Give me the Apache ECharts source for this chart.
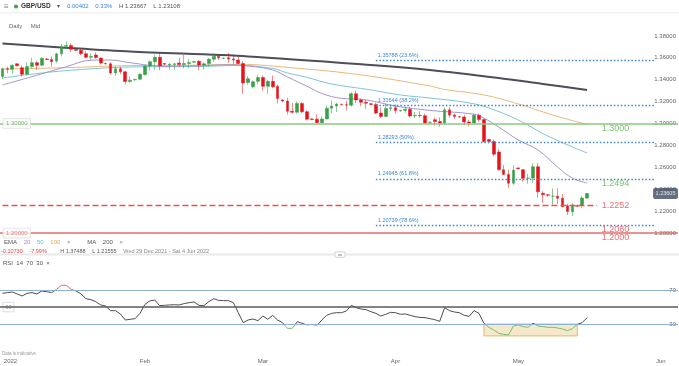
<!DOCTYPE html>
<html><head><meta charset="utf-8">
<script src="https://cdn.jsdelivr.net/npm/echarts@6/dist/echarts.min.js"></script>
<style>html,body{margin:0;padding:0;background:#fff}#c{width:679px;height:366px}</style>
</head><body><div id="c"></div>
<script>
// ---------- categories: trading days (Sun-Fri), Dec 29 2021 .. Jun 7 2022 ----------
function buildDates(a, b){
  const out=[]; let d=new Date(a+'T00:00:00Z'); const e=new Date(b+'T00:00:00Z');
  while(d<=e){ if(d.getUTCDay()!==6) out.push(d.toISOString().slice(0,10)); d=new Date(d.getTime()+86400000); }
  return out;
}
const dates = buildDates('2021-12-29','2022-06-07');

// ---------- OHLC (GBP/USD daily, Dec 29 2021 .. May 17 2022) ----------
const opens = [1.3430,1.3500,1.3495,
 1.3545,1.3510,1.3450,1.3520,1.3556,1.3532,
 1.3590,1.3585,1.3570,1.3636,1.3705,1.3712,
 1.3675,1.3668,1.3638,1.3605,1.3625,1.3598,
 1.3548,1.3545,1.3462,1.3500,1.3472,1.3384,
 1.3398,1.3405,1.3448,1.3525,1.3565,1.3605,
 1.3548,1.3535,1.3538,1.3552,1.3538,1.3548,
 1.3560,1.3568,1.3535,1.3548,1.3588,1.3615,
 1.3595,1.3600,1.3590,1.3580,1.3548,1.3375,
 1.3335,1.3385,1.3420,1.3340,1.3385,1.3340,
 1.3215,1.3205,1.3112,1.3103,1.3184,1.3108,
 1.3042,1.3040,1.3008,1.3042,1.3140,1.3160,
 1.3175,1.3172,1.3168,1.3272,1.3215,1.3195,
 1.3180,1.3175,1.3096,1.3065,1.3138,1.3145,
 1.3115,1.3120,1.3130,1.3070,1.3074,1.3072,
 1.3010,1.3035,1.3018,1.3002,1.3125,1.3078,
 1.3062,1.3060,1.3015,1.3005,1.3075,1.3036,
 1.2855,1.2835,1.2740,1.2578,1.2535,1.2455,
 1.2595,1.2578,1.2500,1.2502,1.2606,1.2363,
 1.2350,1.2336,1.2336,1.2317,1.2250,1.2195,
 1.2250,1.2253,1.2320];
const highs = [1.3510,1.3518,1.3540,
 1.3550,1.3530,1.3560,1.3600,1.3570,1.3605,
 1.3598,1.3612,1.3645,1.3727,1.37488,1.3734,
 1.3685,1.3688,1.3660,1.3640,1.3648,1.3605,
 1.3556,1.3560,1.3523,1.3518,1.3480,1.3430,
 1.3410,1.3459,1.3530,1.3575,1.3630,1.3643,
 1.3552,1.3550,1.3552,1.3600,1.3643,1.3587,
 1.3572,1.3580,1.3560,1.3598,1.3645,1.3625,
 1.3606,1.3643,1.3628,1.3610,1.3570,1.3433,
 1.3390,1.3445,1.3438,1.3397,1.3438,1.3354,
 1.3225,1.3235,1.3187,1.3202,1.3196,1.3121,
 1.3050,1.3085,1.3066,1.3164,1.3210,1.3190,
 1.3182,1.3208,1.3286,1.3298,1.3227,1.3215,
 1.3188,1.3190,1.3148,1.3182,1.3176,1.3175,
 1.3126,1.3154,1.3154,1.3106,1.3113,1.3090,
 1.3022,1.3055,1.3056,1.3147,1.3149,1.3090,
 1.3070,1.3079,1.3034,1.3090,1.3090,1.3045,
 1.2860,1.2853,1.2769,1.2620,1.2580,1.2618,
 1.2600,1.2585,1.2539,1.2637,1.2638,1.2381,
 1.2355,1.2406,1.2409,1.2357,1.2268,1.2274,
 1.2262,1.2340,1.23667];
const lows = [1.3405,1.3460,1.3455,
 1.3520,1.3432,1.3440,1.3505,1.3490,1.3525,
 1.3580,1.3520,1.3550,1.3612,1.3680,1.3655,
 1.3660,1.3622,1.3595,1.3580,1.3590,1.3539,
 1.3538,1.3447,1.3434,1.3450,1.3358,1.3372,
 1.3392,1.3400,1.3437,1.3483,1.3490,1.3488,
 1.3535,1.3491,1.3489,1.3519,1.3501,1.3506,
 1.3555,1.3485,1.3490,1.3520,1.3564,1.3580,
 1.3588,1.3556,1.3538,1.3541,1.3272,1.3355,
 1.3320,1.3355,1.3300,1.3271,1.3322,1.3184,
 1.3195,1.3083,1.3091,1.3090,1.3094,1.3029,
 1.3030,1.3000,1.3001,1.3038,1.3091,1.3104,
 1.3165,1.3119,1.3155,1.3186,1.3159,1.3136,
 1.3168,1.3085,1.3050,1.3060,1.3115,1.3090,
 1.3108,1.3098,1.3054,1.3050,1.3050,1.3000,
 1.3000,1.2980,1.2972,1.2990,1.3054,1.3040,
 1.3052,1.2989,1.2974,1.2996,1.3016,1.2826,
 1.2825,1.2701,1.2572,1.2530,1.2411,1.2440,
 1.2580,1.2470,1.2450,1.2460,1.2326,1.2276,
 1.2330,1.2259,1.2266,1.2236,1.2165,1.21555,
 1.2240,1.2226,1.23108];
const closes = [1.3500,1.3495,1.3532,
 1.3528,1.3450,1.3520,1.3556,1.3532,1.3596,
 1.3585,1.3565,1.3636,1.3705,1.3712,1.3678,
 1.3668,1.3638,1.3605,1.3612,1.3603,1.3552,
 1.3545,1.3462,1.3500,1.3472,1.3384,1.3396,
 1.3402,1.3450,1.3525,1.3565,1.3605,1.3528,
 1.3542,1.3542,1.3545,1.3538,1.3548,1.3558,
 1.3566,1.3535,1.3545,1.3588,1.3615,1.3600,
 1.3598,1.3590,1.3580,1.3548,1.3370,1.3410,
 1.3382,1.3420,1.3340,1.3385,1.3335,1.3228,
 1.3205,1.3112,1.3103,1.3184,1.3108,1.3040,
 1.3038,1.3008,1.3042,1.3140,1.3160,1.3178,
 1.3172,1.3168,1.3272,1.3215,1.3195,1.3185,
 1.3175,1.3096,1.3065,1.3138,1.3145,1.3118,
 1.3120,1.3130,1.3070,1.3074,1.3072,1.3005,
 1.3012,1.3018,1.3002,1.3125,1.3078,1.3065,
 1.3060,1.3015,1.3005,1.3075,1.3036,1.2836,
 1.2835,1.2720,1.2578,1.2535,1.2455,1.2575,
 1.2588,1.2500,1.2502,1.2606,1.2377,1.2350,
 1.2345,1.2336,1.2317,1.2240,1.2198,1.2256,
 1.2245,1.2320,1.23605];

// ---------- moving averages [date, value] ----------
const ema20 = [['2021-12-29',1.3352],['2022-01-05',1.3428],['2022-01-13',1.3519],['2022-01-19',1.3578],
 ['2022-01-24',1.3580],['2022-01-28',1.3555],['2022-02-06',1.3522],['2022-02-14',1.3528],['2022-02-21',1.3536],
 ['2022-02-25',1.3525],['2022-03-03',1.3489],['2022-03-07',1.3425],['2022-03-11',1.3340],['2022-03-15',1.3275],
 ['2022-03-20',1.3230],['2022-03-24',1.3222],['2022-04-01',1.3160],['2022-04-10',1.3120],['2022-04-20',1.3085],
 ['2022-04-22',1.3050],['2022-04-26',1.2968],['2022-05-01',1.2850],['2022-05-05',1.2758],['2022-05-10',1.2603],
 ['2022-05-13',1.2502],['2022-05-17',1.2457]];
const ema50 = [['2021-12-29',1.3416],['2022-01-10',1.3471],['2022-01-21',1.3505],['2022-01-30',1.3517],
 ['2022-02-14',1.3521],['2022-02-23',1.3530],['2022-03-03',1.3503],['2022-03-07',1.3462],['2022-03-11',1.3421],
 ['2022-03-17',1.3361],['2022-03-27',1.3307],['2022-04-03',1.3261],['2022-04-10',1.3233],['2022-04-19',1.3188],
 ['2022-04-24',1.3142],['2022-05-01',1.3032],['2022-05-08',1.2886],['2022-05-17',1.2731]];
const ema100 = [['2021-12-29',1.3498],['2022-01-13',1.3510],['2022-01-28',1.3529],['2022-02-11',1.3532],
 ['2022-02-23',1.3540],['2022-03-09',1.3505],['2022-03-24',1.3444],['2022-04-10',1.3343],['2022-04-13',1.3311],
 ['2022-04-22',1.3261],['2022-05-01',1.3179],['2022-05-09',1.3078],['2022-05-17',1.2991]];
const ma200 = [['2021-12-29',1.3731],['2022-01-12',1.3695],['2022-01-28',1.3657],['2022-02-25',1.3613],
 ['2022-03-27',1.3535],['2022-04-10',1.3489],['2022-04-26',1.3416],['2022-05-06',1.3361],['2022-05-17',1.3307]];

// ---------- RSI(14) ----------
const rsi = [66.1,66.9,67.6,65.3,63,66,67,65.3,68.8,68,
 66.9,70.8,75.5,75.5,70.8,68.8,65.3,59.8,58.6,56.3,
 52.4,51.2,45.7,45.7,41.8,34.7,35.5,36.3,42.5,53.1,
 57.1,58.2,51.6,52,52.4,52.7,52.4,54,55.1,55.9,
 52,51.6,56.3,59.8,57.8,57.5,57.5,55.1,43.3,31.6,
 34.7,35.9,33.9,39.4,35.5,40.2,34.7,31.6,24.9,24.9,
 32.7,30.8,28.8,29.6,28,34.7,40.2,42.5,43.3,43.3,
 45.3,52,49.2,47.6,46.9,44.5,42.5,39.4,41.4,43.7,
 43.3,41.4,41.8,40.2,38.6,37.8,37.5,36.3,35.1,33.1,
 49.2,45.7,44.1,43.3,40.2,39,45.7,42.5,30.8,26.1,
 23,19,17.8,17.1,27.6,28.8,26.9,26.1,30.8,27.6,
 26.9,26.1,26.1,25.3,24.1,22.2,24.5,29.6,31.6,37.5];

// ---------- levels ----------
const fibValues = [1.35788, 1.31644, 1.28293, 1.24945, 1.20739];
const fibLabels = ['1.35788 (23.6%)','1.31644 (38.2%)','1.28293 (50%)','1.24945 (61.8%)','1.20739 (78.6%)'];
const fibStart = '2022-03-28', fibEnd = '2022-06-02';
const supportLevel = 1.2252, supportStart = '2021-12-29', supportEnd = '2022-05-19';
const greenLevel = 1.3000, redLevel = 1.2000;
const tagValues = [1.3000, 1.2494, 1.2252, 1.2080, 1.2000];
const tagDate = '2022-05-20';
const lastPrice = 1.23605, lastDate = '2022-06-07';
const rsiBands = [70, 50, 30];
const oversoldBox = [['2022-04-22', 30], ['2022-05-15', 16]];

const tickDates = ['2022-01-02','2022-02-01','2022-03-01','2022-04-01','2022-05-01','2022-06-01'];
const tickLabels = ['2022','Feb','Mar','Apr','May','Jun'];

const header = ['GBP/USD','0.00402','0.33%','H 1.23667','L 1.23108'];
const rangeInfo = ['-0.10730','-7.99%','H 1.37488','L 1.21555','Wed 29 Dec 2021 - Sat 4 Jun 2022'];

// ---------- build ----------
const FONT = '"Liberation Sans", Arial, sans-serif';
const candles = opens.map((o,i)=>[o, closes[i], lows[i], highs[i]]);
const xDataBottom = dates.map(d=>{
  if(d===tickDates[0]) return {value:d, textStyle:{align:'right'}};
  if(d===tickDates[tickDates.length-1]) return {value:d, textStyle:{align:'left', padding:[0,0,0,5]}};
  return d;
});
const tagColors = ['#5cb04c','#5cb04c','#e5484d','#e5484d','#e5484d'];
const tagOffsets = [4.6, 4.3, 0, 4.8, 4.4];

function lineHolder(name, color, width, type, data){
  return {name, type:'line', xAxisIndex:0, yAxisIndex:0, data:[], silent:true, z:1,
    color: color,
    markLine:{silent:true, symbol:['none','none'], animation:false,
      lineStyle:{color, width, type, opacity:1}, label:{show:false}, data}};
}

const chart = echarts.init(document.getElementById('c'), null, {renderer:'canvas'});
const option = {
  animation:false,
  textStyle:{fontFamily:FONT},
  grid:[
    {left:0, right:0, top:14, height:241},
    {left:0, right:0, top:264.5, height:85}
  ],
  xAxis:[
    {type:'category', gridIndex:0, data:dates, boundaryGap:true,
     axisLine:{show:false}, axisTick:{show:false}, axisLabel:{show:false}, splitLine:{show:false}},
    {type:'category', gridIndex:1, data:xDataBottom, boundaryGap:true,
     axisLine:{show:false}, axisTick:{show:false}, splitLine:{show:false},
     axisLabel:{show:true, fontSize:6, color:'#666', margin:9, fontFamily:FONT,
       interval:(i,v)=>tickDates.indexOf(v)>=0,
       formatter:v=>{const k=tickDates.indexOf(v); return k>=0?tickLabels[k]:'';}}}
  ],
  yAxis:[
    {type:'value', gridIndex:0, position:'right', min:1.18, max:1.40, interval:0.02,
     axisLine:{show:false}, axisTick:{show:false}, splitLine:{show:false},
     axisLabel:{inside:true, margin:2, fontSize:6, color:'#666', showMinLabel:false, showMaxLabel:false,
       formatter:v=>v.toFixed(5)}},
    {type:'value', gridIndex:1, position:'right', min:0, max:100, interval:10,
     axisLine:{show:false}, axisTick:{show:false}, splitLine:{show:false},
     axisLabel:{inside:true, margin:2, fontSize:6, color:'#666',
       formatter:v=>(v===70||v===30)?String(v):''}}
  ],
  visualMap:[{show:false, seriesIndex:9, dimension:1,
    pieces:[{lt:30, color:'#72c266'},{gte:30, lte:70, color:'#4d4d4d'},{gt:70, color:'#e46a6a'}]}],
  series:[
    lineHolder('greenLevel', '#8dc97e', 1.5, 'solid', [{yAxis:greenLevel}]),
    lineHolder('redLevel', '#e36d6d', 1.5, 'solid', [{yAxis:redLevel}]),
    {name:'support', type:'line', xAxisIndex:0, yAxisIndex:0, silent:true, z:5, symbol:'none',
     data:[[supportStart, supportLevel],[supportEnd, supportLevel]],
     itemStyle:{color:'#ee5050'}, lineStyle:{color:'#ee5050', width:1.5, type:'dashed'}},
    lineHolder('fib', '#3d86d4', 1.4, [1.5,2], fibValues.map((v,i)=>[
         {coord:[fibStart, v],
          label:{show:true, formatter:fibLabels[i], position:'insideStartTop', distance:2, color:'#3d86d4', fontSize:5.5, fontFamily:FONT}},
         {coord:[fibEnd, v]}])),
    {name:'EMA 100', type:'line', xAxisIndex:0, yAxisIndex:0, data:ema100, smooth:0.4, symbol:'none', z:2,
     lineStyle:{color:'#e9b978', width:1}},
    {name:'EMA 50', type:'line', xAxisIndex:0, yAxisIndex:0, data:ema50, smooth:0.4, symbol:'none', z:2,
     lineStyle:{color:'#7cc5d8', width:1}},
    {name:'EMA 20', type:'line', xAxisIndex:0, yAxisIndex:0, data:ema20, smooth:0.4, symbol:'none', z:2,
     lineStyle:{color:'#a394cb', width:1}},
    {name:'MA 200', type:'line', xAxisIndex:0, yAxisIndex:0, data:ma200, smooth:0.3, symbol:'none', z:2,
     lineStyle:{color:'#4e4e58', width:2}},
    {name:'GBP/USD', type:'candlestick', xAxisIndex:0, yAxisIndex:0, data:candles, barWidth:3.2, z:3,
     itemStyle:{color:'#3a9f48', color0:'#e3141b', borderColor:'rgba(58,159,72,0.55)', borderColor0:'rgba(227,20,27,0.5)',
       borderColorDoji:'rgba(58,159,72,0.6)', borderWidth:1}},
    {name:'RSI', type:'line', xAxisIndex:1, yAxisIndex:1, data:rsi, symbol:'none', z:4,
     lineStyle:{width:1}},
    {name:'rsiLevels', type:'scatter', xAxisIndex:1, yAxisIndex:1, symbolSize:0, z:3,
     data:[[dates[0], rsiBands[1]]],
     label:{show:true, position:'inside', align:'left', offset:[1,0], formatter:p=>String(p.value[1]),
       fontSize:5.5, color:'#777', backgroundColor:'#fff', borderColor:'#d0d0d0', borderWidth:0.8, padding:[1.5,2]},
     markLine:{silent:true, symbol:['none','none'], label:{show:false},
       data:[
         {yAxis:rsiBands[0], lineStyle:{color:'#8fb2da', width:1.2, type:'solid'}},
         {yAxis:rsiBands[1], lineStyle:{color:'#5a5a5a', width:1.5, type:'solid'}},
         {yAxis:rsiBands[2], lineStyle:{color:'#8fb2da', width:1.2, type:'solid'}}
       ]},
     markArea:{silent:true, data:[[
       {xAxis:oversoldBox[0][0], yAxis:oversoldBox[0][1], itemStyle:{color:'rgba(238,214,160,0.55)', borderColor:'#e9b766', borderWidth:1}},
       {xAxis:oversoldBox[1][0], yAxis:oversoldBox[1][1]}
     ]]}},
    {name:'tags', type:'scatter', xAxisIndex:0, yAxisIndex:0, symbolSize:0, z:6, silent:true,
     data:tagValues.map((v,i)=>({value:[tagDate, v],
       label:{show:true, position:'inside', align:'left', offset:[0,tagOffsets[i]], color:tagColors[i],
         formatter:v.toFixed(4), fontSize:9, fontFamily:FONT}}))},
    {name:'boxes', type:'scatter', xAxisIndex:0, yAxisIndex:0, symbolSize:0, z:6, silent:true,
     data:[
       {value:[dates[0], greenLevel], label:{show:true, position:'inside', align:'left', offset:[1,0], formatter:greenLevel.toFixed(5),
         fontSize:6, color:'#5aa84e', backgroundColor:'#fff', borderColor:'#d6dcd6', borderWidth:0.8, padding:[1.5,2.5]}},
       {value:[dates[0], redLevel], label:{show:true, position:'inside', align:'left', offset:[1,0], formatter:redLevel.toFixed(5),
         fontSize:6, color:'#e06060', backgroundColor:'#fff', borderColor:'#dcdcdc', borderWidth:0.8, padding:[1.5,2.5]}},
       {value:[lastDate, lastPrice], label:{show:true, position:'inside', align:'right', offset:[2.4,0], formatter:lastPrice.toFixed(5),
         fontSize:5.5, color:'#fff', backgroundColor:'#3d4b60', borderRadius:2, padding:[2.5,2.5]}}
     ]}
  ],
  graphic:[
    {type:'rect', shape:{x:0,y:12.5,width:679,height:0.8}, style:{fill:'#e6e6e6'}, silent:true},
    {type:'text', x:4, y:6.5, style:{text:'≡', fontSize:8, fill:'#777', verticalAlign:'middle', fontFamily:FONT}},
    {type:'circle', shape:{cx:16, cy:6.5, r:2}, style:{fill:'#3aa04a'}},
    {type:'text', x:21, y:6.5, style:{
      text:'{t|'+header[0]+'}  {a|▾}  {b|'+header[1]+'}  {b|'+header[2]+'}  {h|'+header[3]+'}  {h|'+header[4]+'}',
      verticalAlign:'middle', fontFamily:FONT,
      rich:{t:{fontSize:6.5, fill:'#333', fontWeight:'bold'}, a:{fontSize:6, fill:'#555'}, b:{fontSize:6, fill:'#3a86d6'}, h:{fontSize:6, fill:'#555'}}}},
    {type:'text', x:9, y:26, style:{text:'Daily     Mid', fontSize:6, fill:'#666', verticalAlign:'middle', fontFamily:FONT}},
    {type:'text', x:4, y:242, style:{
      text:'{g|EMA}  {p|20}  {c|50}  {o|100}  {x|×}     {g|MA}  {g|200}  {x|×}',
      verticalAlign:'middle', fontFamily:FONT,
      rich:{g:{fontSize:6, fill:'#555'}, p:{fontSize:6, fill:'#9d8fc7'}, c:{fontSize:6, fill:'#5fbfd5'}, o:{fontSize:6, fill:'#e2a95a'}, x:{fontSize:6, fill:'#888'}}}},
    {type:'text', x:1, y:251, style:{
      text:'{r|'+rangeInfo[0]+'}  {r|'+rangeInfo[1]+'}    {g|'+rangeInfo[2]+'}  {g|'+rangeInfo[3]+'}  {d|'+rangeInfo[4]+'}',
      verticalAlign:'middle', fontFamily:FONT,
      rich:{r:{fontSize:5.5, fill:'#e04848'}, g:{fontSize:5.5, fill:'#555'}, d:{fontSize:5.5, fill:'#888'}}}},
    {type:'rect', shape:{x:0,y:253.5,width:679,height:2}, style:{fill:'#e9e9e9'}, silent:true},
    {type:'rect', shape:{x:335,y:251.8,width:10,height:5.5,r:1}, style:{fill:'#fff', stroke:'#c8c8c8', lineWidth:0.8}, silent:true},
    {type:'rect', shape:{x:338,y:254,width:4,height:0.6}, style:{fill:'#999'}, silent:true},
    {type:'rect', shape:{x:338,y:255.3,width:4,height:0.6}, style:{fill:'#999'}, silent:true},
    {type:'text', x:3, y:263, style:{text:'RSI  14  70  30  ×', fontSize:6, fill:'#555', verticalAlign:'middle', fontFamily:FONT}},
    {type:'text', x:2, y:354, style:{text:'Data is indicative', fontSize:4.5, fill:'#999', verticalAlign:'middle', fontFamily:FONT}}
  ]
};
chart.setOption(option);
</script>
</body></html>
